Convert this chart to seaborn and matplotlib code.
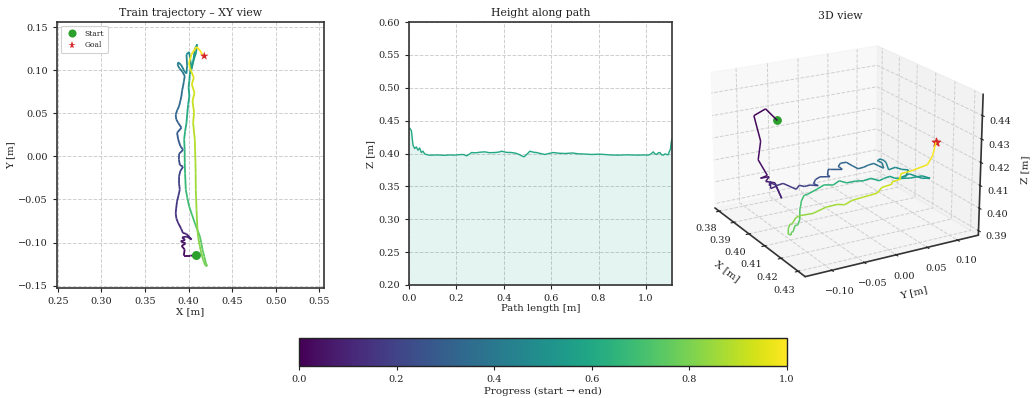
import numpy as np
import matplotlib
matplotlib.use("Agg")
import matplotlib.pyplot as plt
import seaborn as sns
import pandas as pd
from matplotlib.collections import LineCollection
from mpl_toolkits.mplot3d.art3d import Line3DCollection

# ---------------- data ----------------
traj_x = [0.4090, 0.4020, 0.3945, 0.3955, 0.3920, 0.3965, 0.3910, 0.3960, 0.3925, 0.3980,
          0.4035, 0.3975, 0.3935, 0.3915, 0.3880,
          0.3860, 0.3852, 0.3858, 0.3868, 0.3885, 0.3899, 0.3890, 0.3891, 0.3905, 0.3937,
          0.3900, 0.3889, 0.3891, 0.3937, 0.3905, 0.3880, 0.3868, 0.3918, 0.3880, 0.3858,
          0.3852, 0.3870, 0.3891, 0.3905, 0.3918, 0.3925, 0.3937, 0.3946, 0.3956, 0.3930,
          0.3895, 0.3875,
          0.3880, 0.3915, 0.3950, 0.3975, 0.3983, 0.3976, 0.4006, 0.4020, 0.4033, 0.4052,
          0.4071, 0.4098, 0.4085, 0.4052, 0.4025, 0.4014,
          0.4009, 0.4000, 0.4009, 0.3995, 0.3985, 0.3976, 0.3960, 0.3949, 0.3955, 0.3956,
          0.3960, 0.3968, 0.3985, 0.4006, 0.4040, 0.4071, 0.4100, 0.4129, 0.4145, 0.4160,
          0.4180, 0.4198, 0.4213, 0.4190,
          0.4167, 0.4145, 0.4129, 0.4110, 0.4102, 0.4091, 0.4083, 0.4081, 0.4079, 0.4075,
          0.4071, 0.4052, 0.4063, 0.4045, 0.4068, 0.4037, 0.4060, 0.4014, 0.4006, 0.4033,
          0.4091, 0.4130, 0.4167]
traj_y = [-0.1150, -0.1152, -0.1152, -0.1080, -0.1040, -0.1010, -0.0985, -0.0970, -0.0940, -0.0930,
          -0.0965, -0.0900, -0.0888, -0.0840, -0.0772,
          -0.0720, -0.0660, -0.0600, -0.0520, -0.0450, -0.0385, -0.0310, -0.0230, -0.0170, -0.0121,
          -0.0100, -0.0040, 0.0030, 0.0075, 0.0120, 0.0200, 0.0273, 0.0332, 0.0390, 0.0430,
          0.0486, 0.0535, 0.0583, 0.0640, 0.0699, 0.0760, 0.0815, 0.0870, 0.0931, 0.0980,
          0.1020, 0.1060,
          0.1090, 0.1060, 0.0990, 0.0960, 0.1050, 0.1183, 0.1210, 0.1120, 0.1009, 0.1086,
          0.1241, 0.1299, 0.1200, 0.1100, 0.1020, 0.0950,
          0.0880, 0.0800, 0.0699, 0.0600, 0.0500, 0.0389, 0.0290, 0.0196, 0.0080, -0.0075,
          -0.0200, -0.0385, -0.0480, -0.0580, -0.0680, -0.0772, -0.0850, -0.0927, -0.1000, -0.1082,
          -0.1160, -0.1236, -0.1275, -0.1262,
          -0.1200, -0.1120, -0.1043, -0.0940, -0.0850, -0.0617, -0.0385, -0.0200, -0.0075, 0.0060,
          0.0196, 0.0389, 0.0506, 0.0641, 0.0738, 0.0834, 0.0912, 0.1028, 0.1086, 0.1183,
          0.1270, 0.1230, 0.1163]
traj_z = [0.440, 0.442, 0.436, 0.425, 0.415, 0.410, 0.406, 0.409, 0.405, 0.407,
          0.403, 0.405, 0.402, 0.404, 0.400,
          0.400, 0.399, 0.398, 0.399, 0.398, 0.397, 0.398, 0.397, 0.398, 0.399,
          0.398, 0.399, 0.400, 0.402, 0.401, 0.402, 0.401, 0.403, 0.402, 0.401,
          0.402, 0.403, 0.402, 0.401, 0.402, 0.403, 0.404, 0.403, 0.402, 0.403,
          0.402, 0.401,
          0.402, 0.403, 0.404, 0.402, 0.403, 0.401, 0.402, 0.400, 0.401, 0.403,
          0.401, 0.402, 0.403, 0.401, 0.400, 0.400,
          0.401, 0.400, 0.400, 0.401, 0.400, 0.400, 0.399, 0.400, 0.399, 0.400,
          0.399, 0.398, 0.399, 0.398, 0.398, 0.399, 0.398, 0.398, 0.397, 0.398,
          0.397, 0.398, 0.398, 0.397,
          0.398, 0.398, 0.397, 0.398, 0.398, 0.397, 0.398, 0.398, 0.397, 0.398,
          0.398, 0.397, 0.398, 0.399, 0.401, 0.400, 0.402, 0.399, 0.401, 0.403,
          0.408, 0.414, 0.422]

path_len = [0.000, 0.003, 0.010, 0.017, 0.024, 0.031, 0.038, 0.045, 0.052, 0.059, 0.066, 0.073,
            0.085, 0.095, 0.120, 0.150, 0.170, 0.193, 0.210, 0.229, 0.243, 0.255, 0.264, 0.280,
            0.300, 0.320, 0.340, 0.363, 0.380, 0.391, 0.410, 0.433, 0.450, 0.465, 0.475, 0.486,
            0.498, 0.510, 0.525, 0.538, 0.555, 0.574, 0.590, 0.609, 0.630, 0.659, 0.690, 0.715,
            0.740, 0.771, 0.800, 0.827, 0.850, 0.884, 0.920, 0.968, 0.990, 1.010, 1.020, 1.031,
            1.038, 1.045, 1.052, 1.059, 1.066, 1.074, 1.081, 1.088, 1.094, 1.098, 1.103, 1.107,
            1.110]
height = [0.4380, 0.4385, 0.4350, 0.4125, 0.4075, 0.4100, 0.4050, 0.4085, 0.4015, 0.4035, 0.3995, 0.3985,
          0.3975, 0.3975, 0.3978, 0.3972, 0.3978, 0.3975, 0.3982, 0.3985, 0.3965, 0.3990, 0.4015, 0.4010,
          0.4020, 0.4025, 0.4012, 0.4015, 0.4022, 0.4035, 0.4018, 0.4015, 0.4005, 0.3985, 0.3965, 0.3950,
          0.3990, 0.4035, 0.4020, 0.4015, 0.4000, 0.3985, 0.4000, 0.4015, 0.4005, 0.4000, 0.4008, 0.3995,
          0.3992, 0.3985, 0.3990, 0.3985, 0.3978, 0.3975, 0.3980, 0.3975, 0.3978, 0.3975, 0.3990, 0.4025,
          0.3995, 0.3985, 0.4010, 0.4015, 0.3980, 0.3975, 0.3995, 0.3985, 0.3980, 0.4025, 0.4060, 0.4175,
          0.4225]

marker_labels = ["Start", "Goal"]
xy_ticks_x = [0.25, 0.30, 0.35, 0.40, 0.45, 0.50, 0.55]
xy_ticks_y = [-0.15, -0.10, -0.05, 0.00, 0.05, 0.10, 0.15]
height_ticks_y = [0.20, 0.25, 0.30, 0.35, 0.40, 0.45, 0.50, 0.55, 0.60]
ticks3d_x = [0.38, 0.39, 0.40, 0.41, 0.42, 0.43]
ticks3d_y = [-0.10, -0.05, 0.00, 0.05, 0.10]
ticks3d_z = [0.39, 0.40, 0.41, 0.42, 0.43, 0.44]
cbar_ticks = [0.0, 0.2, 0.4, 0.6, 0.8, 1.0]

# ---------------- style ----------------
sns.set_theme(style="whitegrid", context="paper")
plt.rcParams.update({
    "font.family": ["DejaVu Serif"],
    "axes.edgecolor": "#333333",
    "axes.linewidth": 1.2,
    "axes.labelcolor": "#222222",
    "axes.titlesize": 7.8,
    "axes.labelsize": 7.3,
    "xtick.labelsize": 7,
    "ytick.labelsize": 7,
    "xtick.color": "#222222",
    "ytick.color": "#222222",
    "xtick.bottom": True,
    "ytick.left": True,
    "xtick.major.size": 3,
    "ytick.major.size": 3,
    "xtick.major.width": 0.8,
    "ytick.major.width": 0.8,
    "grid.linestyle": "--",
    "grid.color": "#cfcfcf",
    "grid.linewidth": 0.7,
    "text.color": "#222222",
})

cmap = plt.get_cmap("viridis")
W, H = 1035, 398
fig = plt.figure(figsize=(W / 100, H / 100), dpi=100)

X = np.array(traj_x)
Y = np.array(traj_y)
Z = np.array(traj_z)
n = len(X)
progress = np.arange(n) / (n - 1)
seg_prog = (progress[:-1] + progress[1:]) / 2

# ---------------- panel 1: XY ----------------
ax1 = fig.add_axes([57 / W, 1 - 288 / H, 267 / W, 266 / H])
pts = np.column_stack([X, Y]).reshape(-1, 1, 2)
segs = np.concatenate([pts[:-1], pts[1:]], axis=1)
lc = LineCollection(segs, cmap=cmap, norm=plt.Normalize(0, 1), linewidth=1.3)
lc.set_array(seg_prog)
ax1.add_collection(lc)
mk = pd.DataFrame({"x": [X[0], X[-1] + 0.0013], "y": [Y[0], Y[-1]], "label": marker_labels})
sns.scatterplot(data=mk, x="x", y="y", hue="label", style="label",
                palette={"Start": "#2ca02c", "Goal": "#d62728"},
                markers={"Start": "o", "Goal": "*"}, s=42, linewidth=0, ax=ax1, zorder=5)
ax1.legend(loc="upper left", fontsize=5.5, frameon=True, framealpha=0.9,
           edgecolor="#cccccc", handletextpad=0.6, borderpad=0.5, markerscale=0.9)
ax1.set_xlim(0.249, 0.5554)
ax1.set_ylim(-0.1527, 0.1558)
ax1.set_xticks(xy_ticks_x)
ax1.set_yticks(xy_ticks_y)
ax1.set_xlabel("X [m]", labelpad=1)
ax1.set_ylabel("Y [m]", labelpad=2)
ax1.set_title("Train trajectory – XY view", pad=4)

# ---------------- panel 2: height ----------------
ax2 = fig.add_axes([409 / W, 1 - 285 / H, 263 / W, 263 / H])
hc = cmap(0.6)
hdf = pd.DataFrame({"s": path_len, "z": height})
sns.lineplot(data=hdf, x="s", y="z", color=hc, linewidth=1.0, ax=ax2)
ax2.fill_between(path_len, height, 0.2, color=hc, alpha=0.12, linewidth=0)
ax2.set_xlim(0, path_len[-1])
ax2.set_ylim(0.2, 0.6)
ax2.set_yticks(height_ticks_y)
ax2.set_xlabel("Path length [m]", labelpad=1)
ax2.set_ylabel("Z [m]", labelpad=2)
ax2.set_title("Height along path", pad=4)

# ---------------- panel 3: 3D ----------------
ax3 = fig.add_axes([704 / W, 1 - 293 / H, 272 / W, 272 / H], projection="3d")
pts3 = np.column_stack([X, Y, Z]).reshape(-1, 1, 3)
segs3 = np.concatenate([pts3[:-1], pts3[1:]], axis=1)
lc3 = Line3DCollection(segs3, cmap=cmap, norm=plt.Normalize(0, 1), linewidth=1.1)
lc3.set_array(seg_prog)
ax3.add_collection3d(lc3)
ax3.scatter([X[0]], [Y[0]], [Z[0]], color="#2ca02c", s=30, depthshade=False)
ax3.scatter([X[-1]], [Y[-1]], [Z[-1]], color="#d62728", marker="*", s=40, depthshade=False)
ax3.set_xlim(0.377, 0.434)
ax3.set_ylim(-0.14, 0.135)
ax3.set_zlim(0.388, 0.449)
ax3.set_xticks(ticks3d_x)
ax3.set_yticks(ticks3d_y)
ax3.set_zticks(ticks3d_z)
ax3.tick_params(labelsize=7, pad=0)
ax3.tick_params(axis="z", pad=-1.5)
ax3.set_xlabel("X [m]", fontsize=7.5, labelpad=-3)
ax3.set_ylabel("Y [m]", fontsize=7.5, labelpad=-3)
ax3.set_zlabel("Z [m]", fontsize=7.5, labelpad=-5)
ax3.set_title("3D view", fontsize=7.8, pad=0)
ax3.view_init(elev=20, azim=-30)
ax3.set_box_aspect((4, 4, 3), zoom=1.12)

# ---------------- colorbar ----------------
cax = fig.add_axes([299 / W, 1 - 366 / H, 488 / W, 28 / H])
sm = plt.cm.ScalarMappable(cmap=cmap, norm=plt.Normalize(0, 1))
cb = fig.colorbar(sm, cax=cax, orientation="horizontal")
cb.set_ticks(cbar_ticks)
cb.set_label("Progress (start → end)", fontsize=7.5, labelpad=2)
cb.ax.tick_params(labelsize=7)
cb.outline.set_edgecolor("#222222")
cb.outline.set_linewidth(1.0)

fig.savefig("out.png", dpi=100)
